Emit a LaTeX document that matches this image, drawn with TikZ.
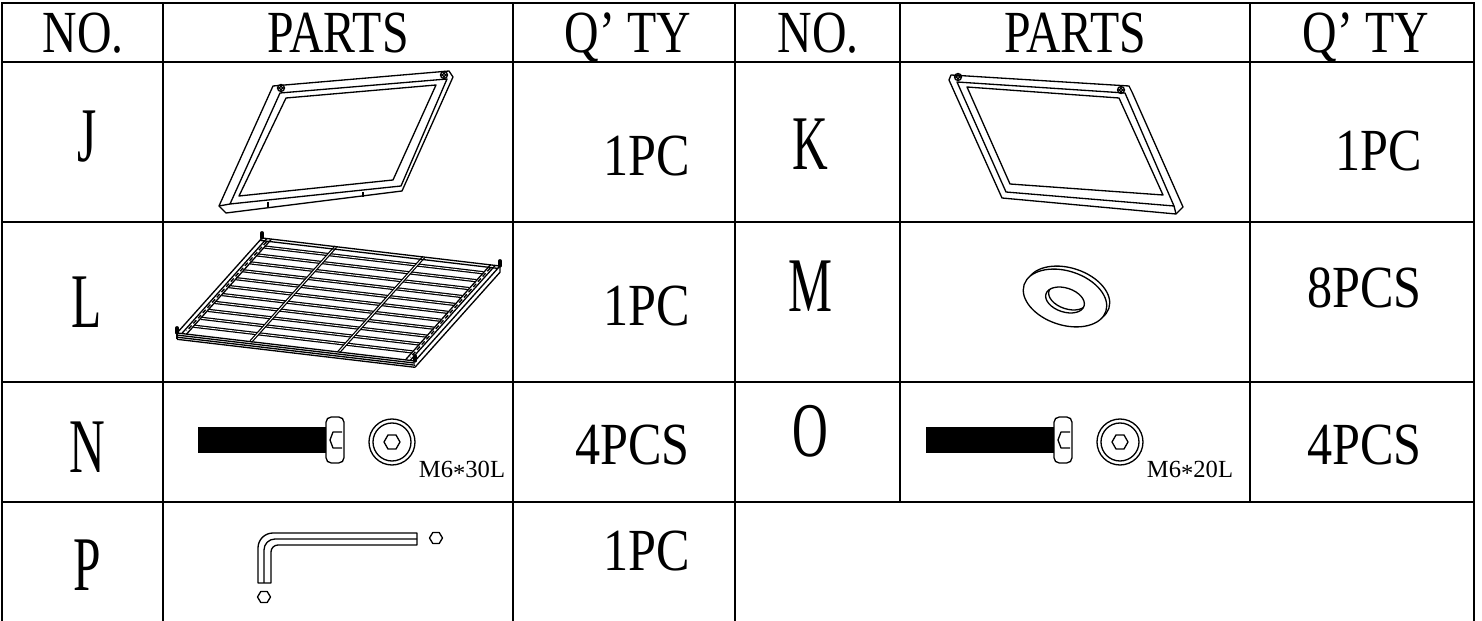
\documentclass[tikz,border=0pt]{standalone}
\usepackage{fontspec}
\setmainfont{Liberation Serif}
\begin{document}
\begin{tikzpicture}[x=0.02cm, y=-0.02cm, line join=round,
		grid/.style={line width=1.1pt, line cap=rect},
		part/.style={line width=0.75pt},
		slat/.style={double, line width=0.7pt, double distance=0.5pt},
		hdr/.style={font=\fontsize{34}{34}\selectfont, xscale=0.8, inner sep=0pt},
		qty/.style={font=\fontsize{34}{34}\selectfont, xscale=0.84, inner sep=0pt},
		letter/.style={font=\fontsize{44}{44}\selectfont, xscale=0.64, inner sep=0pt},
		size/.style={font=\fontsize{14}{14}\selectfont, inner sep=0pt}]
	\useasboundingbox (0,0) rectangle (1482,621);
	
	\foreach \y in {3, 62, 222, 382, 502}
		\draw[grid] (2,\y) -- (1474,\y);
	\foreach \x/\b in {2/621, 163/621, 513/621, 735/621, 900/502, 1250/502, 1474/621}
		\draw[grid] (\x,3) -- (\x,\b);
	
	\foreach \name/\x/\txt in {noa/83/NO., partsa/338/PARTS, qtya/628/Q’ TY, nob/818/NO., partsb/1075/PARTS, qtyb/1366/Q’ TY}
		\node[hdr, anchor=base] (\name) at (\x,53) {\txt};
	\foreach \t/\x/\y in {J/87/162, K/810/170, L/87/328, M/810/312, N/87/473, O/810/457, P/87/591}
		\node[letter, anchor=base] (no\t) at (\x,\y) {\t};
	\foreach \name/\x/\y/\txt in {qj/690/176/1PC, qk/1422/171/1PC, ql/690/326/1PC, qm/1422/308/8PCS, qn/690/465/4PCS, qo/1422/465/4PCS, qp/690/571/1PC}
		\node[qty, anchor=base east] (\name) at (\x,\y) {\txt};
	
	\draw[part] (273,86) -- (449,71) -- (453,77) -- (402,191) -- (226,213) -- (219,206) -- cycle;
	\draw[part] (280,93) -- (447,79) -- (401,186) -- (230,204) -- cycle;
	\draw[part] (286,98) -- (436,85) -- (393,180) -- (239,196) -- cycle;
	\draw[part] (219,206) -- (230,204);
	\draw[part] (268,202) -- (268,207);
	\draw[part] (363,192) -- (363,197);
	
	\draw[part] (951,75) -- (1129,86) -- (1132,92) -- (1183,207) -- (1176,214) -- (1002,198) -- (949,80) -- cycle;
	\draw[part] (957,82) -- (1125,93) -- (1174,206) -- (1006,192) -- cycle;
	\draw[part] (967,87) -- (1119,98) -- (1163,195) -- (1010,184) -- cycle;
	\draw[part] (1176,214) -- (1174,206);
	
	\foreach \x/\y in {281/88, 444/75, 958/77, 1121/90}
		\draw[part] (\x,\y) circle (3.5) circle (1.8);
	
	\begin{scope}[shift={(262,238)}, x={(4.76cm,-0.56cm)}, y={(-1.7cm,-1.9cm)}]
		\foreach \s in {1,...,11}
			\draw[slat] (0.04,\s/12) -- (0.96,\s/12);
		\foreach \t in {0.31, 0.68}
			\draw[slat] (\t,0) -- (\t,1);
		\foreach \t in {0, 0.02, 0.04, 0.96, 0.98, 1}
			\draw[part] (\t,0) -- (\t,1);
		\foreach \s in {0, 0.025}
			\draw[part] (0,\s) -- (1,\s);
		\foreach \d in {0, 1.2, 2.4, 3.6}
			\draw[part] ([yshift=-\d pt]0,1) -- ([yshift=-\d pt]1,1);
		\draw[part] (0,1) -- ([yshift=-3.6pt]0,1);
		\draw[part] (1,0) -- ([yshift=-3.6pt]1,0) -- ([yshift=-3.6pt]1,1);
		\draw[part, dash pattern=on 2.5pt off 1.5pt] (0.97,0.03) -- (0.97,0.97);
		\draw[part, dash pattern=on 2.5pt off 1.5pt] (0.03,0.03) -- (0.03,0.97);
		\foreach \t/\s in {0/0, 1/0, 0/1, 1/1}
			\draw[line width=1.8pt, line cap=round] (\t,\s) -- ([yshift=3pt]\t,\s);
	\end{scope}
	
	\draw[part, rotate around={-18:(1068,295)}] (1068,295) ellipse [x radius=43, y radius=27];
	\draw[part, fill=white, rotate around={-18:(1065,298)}] (1065,298) ellipse [x radius=43, y radius=27];
	\begin{scope}
		\clip[rotate around={-18:(1065,300)}] (1065,300) ellipse [x radius=20, y radius=12];
		\draw[part, rotate around={-18:(1068,297)}] (1068,297) ellipse [x radius=20, y radius=12];
	\end{scope}
	\draw[part, rotate around={-18:(1065,300)}] (1065,300) ellipse [x radius=20, y radius=12];
	
	\foreach \x/\mm in {198/30, 926/20}
	{
		\fill ({\x},427) rectangle ({\x+129},453);
		\draw[part, fill=white, rounded corners=3pt] ({\x+128},417) rectangle ({\x+146},463);
		\draw[part] ({\x+144},432) -- ({\x+135},432) -- ({\x+132},440) -- ({\x+135},448) -- ({\x+144},448);
		\draw[part] ({\x+194},442) circle (23) circle (19);
		\draw[part] ({\x+202},442) -- ({\x+198},435) -- ({\x+190},435) -- ({\x+186},442) -- ({\x+190},449) -- ({\x+198},449) -- cycle;
		\node[size, anchor=base] (m\mm) at ({\x+264},478) {M6\raisebox{-0.3ex}{*}\mm L};
	}
	
	\draw[part] (417,545) -- (417,533) -- (273,533) arc (270:180:15) -- (258,583) -- (271,583) -- (271,552) arc (180:270:7) -- cycle;
	\draw[part] (417,539) -- (275,539) arc (270:180:11) -- (264,583);
	\foreach \x/\y in {436/538, 264/597}
		\draw[part] ({\x+6.5},\y) -- ({\x+3.2},{\y-5.5}) -- ({\x-3.2},{\y-5.5}) -- ({\x-6.5},\y) -- ({\x-3.2},{\y+5.5}) -- ({\x+3.2},{\y+5.5}) -- cycle;
\end{tikzpicture}
\end{document}
